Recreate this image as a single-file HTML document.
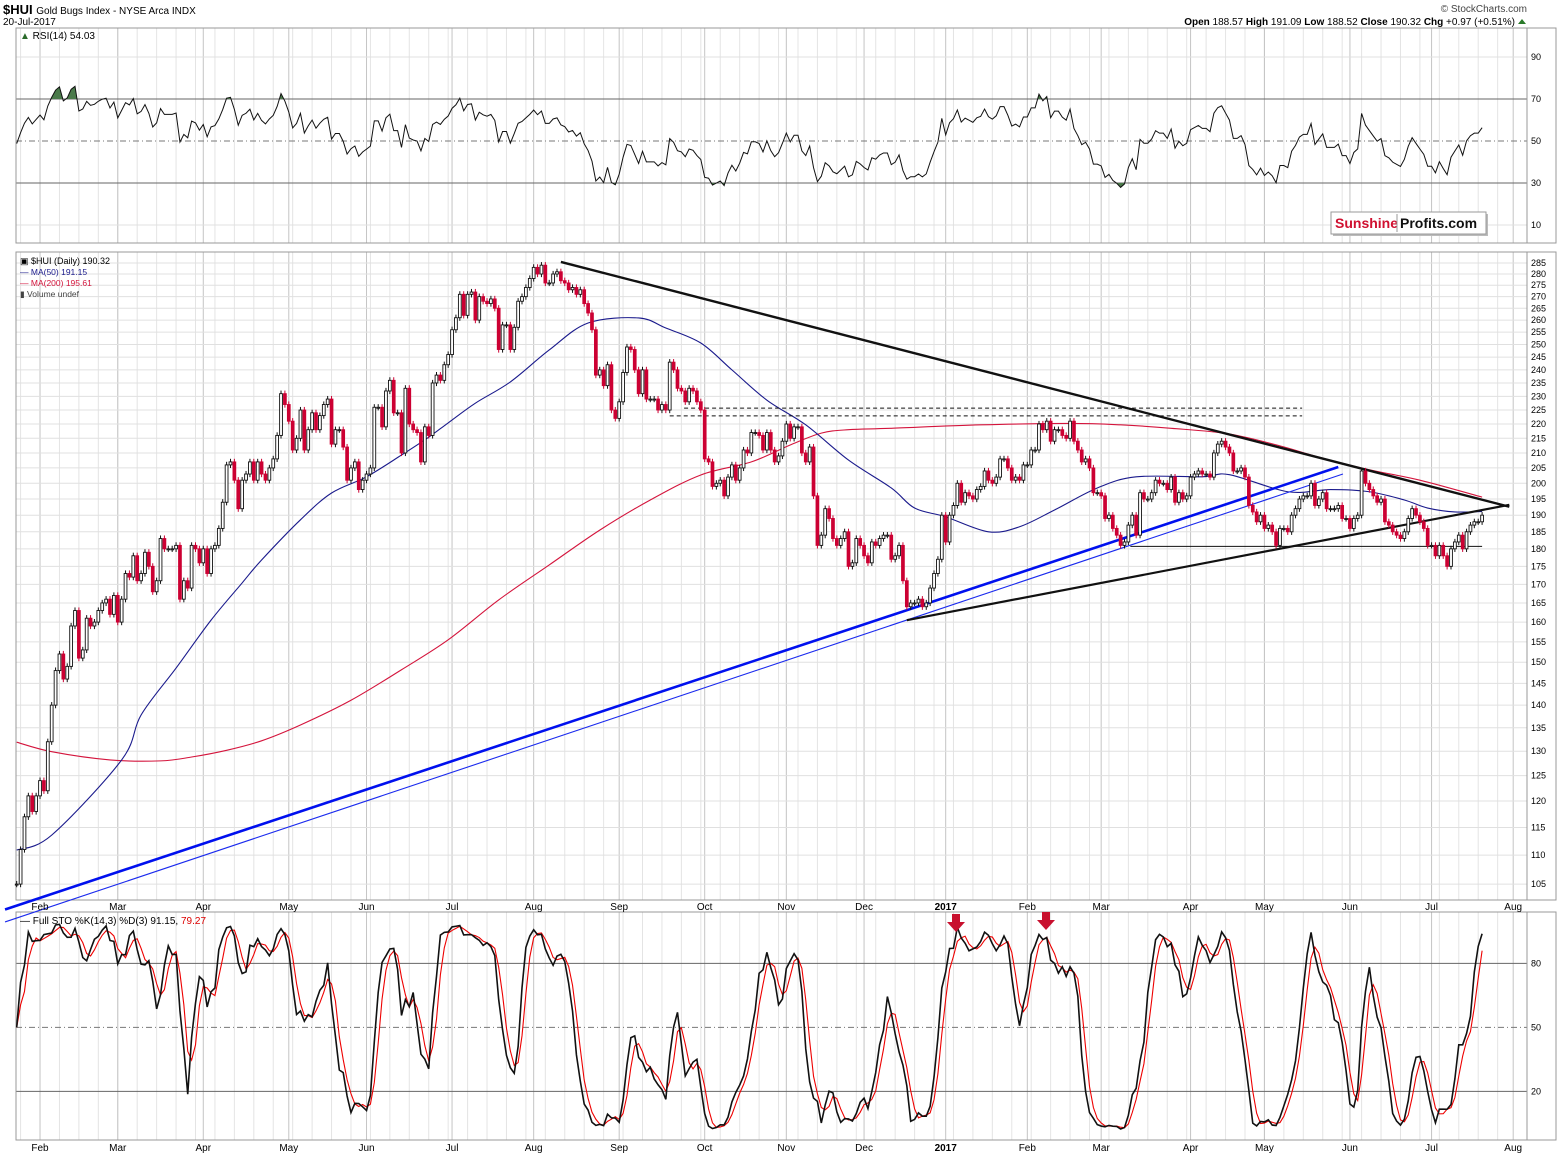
<!DOCTYPE html>
<html><head><meta charset="utf-8">
<style>
body{margin:0;background:#fff}
svg text{font-family:"Liberation Sans",sans-serif}
</style></head>
<body>
<svg id="chart" width="1565" height="1157" xmlns="http://www.w3.org/2000/svg">
<rect x="0" y="0" width="1565" height="1157" fill="#fff"/>
<g id="grid"></g>
<g id="frames">
  <rect x="16" y="28" width="1540" height="215" fill="none" stroke="#999"/>
  <line x1="1527" y1="28" x2="1527" y2="243" stroke="#999"/>
  <rect x="16" y="252" width="1540" height="648" fill="none" stroke="#999"/>
  <line x1="1527" y1="252" x2="1527" y2="900" stroke="#999"/>
  <rect x="16" y="912" width="1540" height="228" fill="none" stroke="#999"/>
  <line x1="1527" y1="912" x2="1527" y2="1140" stroke="#999"/>
</g>
<g id="rsi"></g>
<g id="main"></g>
<g id="stoch"></g>
<g id="axes"></g>

<text x="3" y="14" font-size="13" font-weight="bold">$HUI <tspan font-size="10" font-weight="normal">Gold Bugs Index - NYSE Arca INDX</tspan></text>
<text x="3" y="25" font-size="10">20-Jul-2017</text>
<text x="1527" y="12" font-size="10" fill="#444" text-anchor="end">© StockCharts.com</text>
<text x="1515" y="25" font-size="10" text-anchor="end"><tspan font-weight="bold">Open</tspan> 188.57 <tspan font-weight="bold">High</tspan> 191.09 <tspan font-weight="bold">Low</tspan> 188.52 <tspan font-weight="bold">Close</tspan> 190.32 <tspan font-weight="bold">Chg</tspan> +0.97 (+0.51%)</text>
<polygon points="1518,24 1526,24 1522,19" fill="#2a7a2a"/>

<text x="20" y="39" font-size="10"><tspan fill="#2a6a2a">▲</tspan> RSI(14) 54.03</text>
<text x="20" y="264" font-size="9">▣ $HUI (Daily) 190.32</text>
<text x="20" y="275" font-size="8.5" fill="#1a1a8c">— MA(50) 191.15</text>
<text x="20" y="286" font-size="8.5" fill="#d4143c">— MA(200) 195.61</text>
<text x="20" y="297" font-size="8.5" fill="#444">▮ Volume undef</text>
<text x="20" y="924" font-size="10">— Full STO %K(14,3) %D(3) 91.15, <tspan fill="#d00">79.27</tspan></text>

<g>
  <rect x="1333" y="214" width="155" height="22" fill="#bbb"/>
  <rect x="1331" y="212" width="155" height="22" fill="#fff" stroke="#999"/>
  <text x="1335" y="228" font-size="14" font-weight="bold" fill="#d01030">Sunshine</text>
  <line x1="1397" y1="214" x2="1397" y2="232" stroke="#999"/>
  <text x="1400" y="228" font-size="14" font-weight="bold" fill="#111">Profits.com</text>
</g>
<g>
  <rect x="952" y="914" width="8" height="8" fill="#c8102e"/><polygon points="947,922 965,922 956,932" fill="#c8102e"/>
</g>
<g>
  <rect x="1042" y="912" width="8" height="8" fill="#c8102e"/><polygon points="1037,920 1055,920 1046,930" fill="#c8102e"/>
</g>
</svg>
<script>
const closes=[
105,111,117,121,118,121,124,122,132,140,
148,152,146,149,159,163,151,153,161,159,
160,163,165,166,162,167,160,166,173,172,
178,171,173,179,175,168,171,183,180,180,
180,181,166,171,169,181,180,176,180,173,
180,181,186,194,206,207,201,192,201,203,
207,201,207,203,201,205,208,216,231,227,
221,211,215,225,211,218,224,218,223,227,
229,213,218,218,212,201,205,207,198,201,
203,205,226,226,219,232,236,224,224,210,
233,220,218,217,207,219,216,235,238,236,
242,246,256,261,271,262,271,272,260,270,
268,267,269,265,248,258,258,248,257,268,
270,274,278,283,280,284,276,276,280,281,
277,276,273,274,271,273,267,263,256,238,
240,234,242,225,222,228,239,249,248,240,
231,240,229,229,229,225,227,225,243,240,
233,232,228,233,232,228,225,208,207,199,
200,201,196,202,206,201,205,211,210,217,
217,216,211,217,211,207,209,214,220,215,
219,219,210,207,212,196,181,184,192,189,
183,181,183,185,175,176,183,181,178,176,
182,181,183,184,184,177,178,181,171,164,
165,165,166,164,165,169,173,177,190,182,
190,193,200,194,197,196,195,198,199,204,
201,200,202,208,208,205,201,202,201,206,
206,211,211,220,218,221,214,218,218,216,
215,221,214,211,207,208,205,197,197,196,
189,190,186,184,181,182,187,190,184,197,
195,195,197,201,200,200,198,202,194,197,
195,196,202,203,204,203,203,202,210,213,
214,212,210,204,204,205,202,193,191,188,
190,186,187,185,181,186,186,185,190,192,
195,196,196,200,193,195,197,192,192,192,
193,189,189,186,189,190,204,200,198,196,
194,195,188,187,185,184,183,185,189,192,
190,188,186,181,181,178,181,178,175,180,
182,184,180,185,187,188,188,190];
const ma50Idx=[0,9,27,32,41,50,58,63,73,81,90,99,106,111,118,127,137,147,160,167,176,184,193,203,214,225,231,239,250,258,267,278,288,305,312,327,338,348,357,363,370,377];
const ma50Val=[110.9,113.6,128.2,137.8,148.6,160.5,170.4,176.8,188.6,196.9,202.1,209.3,215.4,220.4,227.5,235.4,247.8,258.8,260.9,256.7,250.6,240,228.6,219.7,207.6,198.5,192.2,189.5,185,186.5,191.6,198.5,202.1,202.1,202.8,197.3,198,197.3,194.7,192.2,191,191.15];
const ma200Idx=[0,9,24,37,45,54,63,73,86,99,111,124,137,150,163,176,189,199,207,214,225,248,271,284,297,312,325,335,348,361,377];
const ma200Val=[131.9,129.9,128.2,128,128.8,130.2,132.2,135.6,141.1,148.2,155.5,165.8,175.4,185.5,194.7,202.7,207,212.7,216.8,218,218.5,219.7,220.2,219.7,218.5,216.5,212.4,208.6,204.4,201,195.6];
const priceTicks=[];for(let v=105;v<=285;v+=5)priceTicks.push(v);
const rsiTicks=[90,70,50,30,10];
const stochTicks=[80,50,20];
const monthIdx=[6,26,48,70,90,112,133,155,177,198,218,239,260,279,302,321,343,364,385];
const monthLbl=["Feb","Mar","Apr","May","Jun","Jul","Aug","Sep","Oct","Nov","Dec","2017","Feb","Mar","Apr","May","Jun","Jul","Aug"];
const rsiSeedGain=[2.0],rsiSeedLoss=[2.1];
const resLineIdx=[140,384],resLineVal=[285.5,192.6];
const supLineIdx=[229,384],supLineVal=[160.5,193.2];
const blueThickIdx=[-3,340],blueThickVal=[100.8,205.3];
const blueThinIdx=[-3,341.2],blueThinVal=[98.8,203];
const hLineIdx=[286.5,377],hLineVal=[180.7,180.7];
const dash1Idx=[171.7,330.7],dash1Val=[225.7,225.7];
const dash2Idx=[168,330.7],dash2Val=[222.9,222.9];

const NS="http://www.w3.org/2000/svg";
function mk(tag,attrs,parent){const e=document.createElementNS(NS,tag);for(const k in attrs)e.setAttribute(k,attrs[k]);parent.appendChild(e);return e;}
const X=i=>16.7+3.887*i;
const Y=p=>263+622*Math.log(285/p);
const YR=v=>225-(v-10)*2.1;
const YS=v=>1134-v*2.133;
const L=1527,LEFT=16;
const grid=document.getElementById('grid'),gm=document.getElementById('main'),gr=document.getElementById('rsi'),gs=document.getElementById('stoch'),ax=document.getElementById('axes');

const opens=closes.map((c,i)=>i?closes[i-1]:c);
const highs=closes.map((c,i)=>Math.max(c,opens[i])*1.005);
const lows=closes.map((c,i)=>Math.min(c,opens[i])*0.995);

const panels=[[28,243],[252,900],[912,1140]];
for(let i=1;i<=385;i+=5){
  for(const [a,b] of panels){
    const l=mk('line',{x1:X(i),x2:X(i),y1:a,y2:b,stroke:'#e4e4e4','stroke-width':1},grid);
    
    
  }
}
monthIdx.forEach((m,k)=>{
  for(const [a,b] of panels){
    const l=mk('line',{x1:X(m),x2:X(m),y1:a,y2:b,stroke:'#c4c4c4','stroke-width':1},grid);
    
    
  }
  for(const ty of [910,1151]){
    const t=mk('text',{x:X(m),y:ty,'font-size':10,'text-anchor':'middle','font-weight':monthLbl[k]==='2017'?'bold':'normal'},ax);
    t.textContent=monthLbl[k];
    
    
  }
});
priceTicks.forEach(v=>{
  const l=mk('line',{x1:LEFT,x2:L,y1:Y(v),y2:Y(v),stroke:'#e0e0e0'},grid);
  
  
  const t=mk('text',{x:1531,y:Y(v)+3,'font-size':9},ax);
  t.textContent=v;
  
  
});
rsiTicks.forEach(v=>{
  const strong=(v===70||v===30), mid=v===50;
  const l=mk('line',{x1:LEFT,x2:L,y1:YR(v),y2:YR(v),stroke:strong?'#666':(mid?'#777':'#e0e0e0'),'stroke-dasharray':mid?'6,3,1,3':'none'},grid);
  
  
  const t=mk('text',{x:1531,y:YR(v)+3,'font-size':9},ax);
  t.textContent=v;
  
  
});
stochTicks.forEach(v=>{
  const mid=v===50;
  const l=mk('line',{x1:LEFT,x2:L,y1:YS(v),y2:YS(v),stroke:mid?'#777':'#666','stroke-dasharray':mid?'6,3,1,3':'none'},grid);
  
  
  const t=mk('text',{x:1531,y:YS(v)+3,'font-size':9},ax);
  t.textContent=v;
  
  
});

// RSI (Wilder, seeded with prior-history averages)
let ag=rsiSeedGain[0],al=rsiSeedLoss[0];
const rsi=[100-100/(1+ag/al)];
for(let i=1;i<closes.length;i++){
  const ch=closes[i]-closes[i-1],g=Math.max(ch,0),lo=Math.max(-ch,0);
  ag=(ag*13+g)/14;al=(al*13+lo)/14;
  rsi.push(al===0?100:100-100/(1+ag/al));
}
const rpts=rsi.map((v,i)=>X(i)+','+YR(v)).join(' ');
const defs=mk('defs',{},document.getElementById('chart'));
mk('rect',{x:0,y:0,width:1565,height:YR(70)},mk('clipPath',{id:'above70'},defs));
mk('rect',{x:0,y:YR(30),width:1565,height:300},mk('clipPath',{id:'below30'},defs));
const fa=mk('polygon',{points:rpts+' '+X(closes.length-1)+','+YR(70)+' '+X(0)+','+YR(70),fill:'#4a7a4a','clip-path':'url(#above70)'},gr);


const fb=mk('polygon',{points:rpts+' '+X(closes.length-1)+','+YR(30)+' '+X(0)+','+YR(30),fill:'#4a7a4a','clip-path':'url(#below30)'},gr);


const rl=mk('polyline',{points:rpts,fill:'none',stroke:'#111','stroke-width':1},gr);



function smoothPath(pts){
  let d='M'+pts[0][0]+','+pts[0][1];
  for(let k=0;k<pts.length-1;k++){
    const p0=pts[Math.max(k-1,0)],p1=pts[k],p2=pts[k+1],p3=pts[Math.min(k+2,pts.length-1)];
    const c1=[p1[0]+(p2[0]-p0[0])/6,p1[1]+(p2[1]-p0[1])/6];
    const c2=[p2[0]-(p3[0]-p1[0])/6,p2[1]-(p3[1]-p1[1])/6];
    d+=' C'+c1[0]+','+c1[1]+' '+c2[0]+','+c2[1]+' '+p2[0]+','+p2[1];
  }
  return d;
}
function maLine(idx,val,color){
  return mk('path',{d:smoothPath(idx.map((i,k)=>[X(i),Y(val[k])])),fill:'none',stroke:color,'stroke-width':1.1},gm);
}
function lineFrom(idx,val,color,w){
  return mk('polyline',{points:idx.map((i,k)=>X(i)+','+Y(val[k])).join(' '),fill:'none',stroke:color,'stroke-width':w},gm);
}
const m200=maLine(ma200Idx,ma200Val,'#d4143c');


const m50=maLine(ma50Idx,ma50Val,'#1a1a8c');



const t1=lineFrom(blueThickIdx,blueThickVal,'#0010ee',2.6);


const t2=lineFrom(blueThinIdx,blueThinVal,'#1a2aee',1.1);


const t3=lineFrom(resLineIdx,resLineVal,'#111',2.4);


const t4=lineFrom(supLineIdx,supLineVal,'#111',2.2);


const t5=lineFrom(hLineIdx,hLineVal,'#111',1);


const t6=lineFrom(dash1Idx,dash1Val,'#111',1);t6.setAttribute('stroke-dasharray','4,3');


const t7=lineFrom(dash2Idx,dash2Val,'#111',1);t7.setAttribute('stroke-dasharray','4,3');



closes.forEach((c,i)=>{
  const o=opens[i],up=c>=o,x=X(i);
  const col=up?'#111':'#cc0033';
  const w=mk('line',{x1:x,x2:x,y1:Y(highs[i]),y2:Y(lows[i]),stroke:col,'stroke-width':1},gm);
  
  
  const top=Y(Math.max(o,c)),bot=Y(Math.min(o,c));
  const b=mk('rect',{x:x-1.4,y:top,width:2.8,height:Math.max(bot-top,1),fill:up?'#fff':'#cc0033',stroke:col,'stroke-width':0.9},gm);
  
  
});

const raw=closes.map((c,i)=>{const s=Math.max(0,i-13);const hh=Math.max(...highs.slice(s,i+1)),ll=Math.min(...lows.slice(s,i+1));return hh===ll?50:(c-ll)/(hh-ll)*100;});
const sma=(a,n)=>a.map((v,i)=>{const s=Math.max(0,i-n+1);const sl=a.slice(s,i+1);return sl.reduce((p,q)=>p+q,0)/sl.length;});
const kLine=sma(raw,3),dLine=sma(kLine,3);
const dl=mk('polyline',{points:dLine.map((v,i)=>X(i)+','+YS(v)).join(' '),fill:'none',stroke:'#e00','stroke-width':1.1},gs);


const kl=mk('polyline',{points:kLine.map((v,i)=>X(i)+','+YS(v)).join(' '),fill:'none',stroke:'#111','stroke-width':1.6},gs);


</script>
</body></html>
